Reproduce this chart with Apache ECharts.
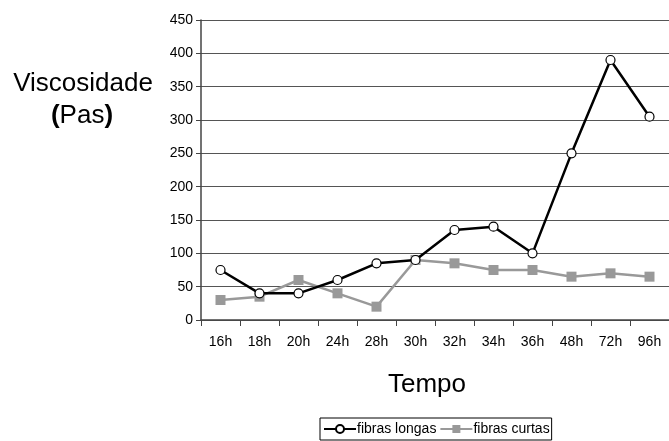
<!DOCTYPE html>
<html><head><meta charset="utf-8">
<script src="https://cdn.jsdelivr.net/npm/echarts@6/dist/echarts.min.js"></script>
<style>html,body{margin:0;padding:0;background:#fff}#c{width:669px;height:441px}</style>
</head><body><div id="c"></div>
<script>
var categories = ['16h','18h','20h','24h','28h','30h','32h','34h','36h','48h','72h','96h'];
var fibrasLongas = [75, 40, 40, 60, 85, 90, 135, 140, 100, 250, 390, 305];
var fibrasCurtas = [30, 35, 60, 40, 20, 90, 85, 75, 75, 65, 70, 65];
var yTicks = [0, 450, 50];

var font = 'Liberation Sans, Arial, sans-serif';
var chart = echarts.init(document.getElementById('c'), null, {renderer: 'canvas'});
chart.setOption({
  animation: false,
  textStyle: {fontFamily: font},
  grid: {left: 201, right: 0, top: 20, bottom: 121},
  xAxis: {
    type: 'category', data: categories, boundaryGap: true,
    axisLine: {lineStyle: {color: '#444', width: 1.5}},
    axisTick: {show: true, length: 6, lineStyle: {color: '#444'}},
    axisLabel: {color: '#000', fontSize: 14, margin: 15, fontFamily: font}
  },
  yAxis: {
    type: 'value', min: yTicks[0], max: yTicks[1], interval: yTicks[2],
    axisLine: {show: true, lineStyle: {color: '#444', width: 1.5}},
    axisTick: {show: true, length: 5, lineStyle: {color: '#444'}},
    axisLabel: {color: '#000', fontSize: 14, margin: 8, fontFamily: font},
    splitLine: {lineStyle: {color: '#555', width: 1}}
  },
  legend: {
    left: 320, top: 418,
    borderColor: '#000', borderWidth: 1, padding: [4, 2, 4, 3],
    itemGap: 3, itemWidth: 32, itemHeight: 10,
    textStyle: {color: '#000', fontSize: 14, fontFamily: font, padding: [0,0,0,-4]},
    data: ['fibras longas', 'fibras curtas']
  },
  graphic: [
    {type: 'text', style: {x: 83, y: 84, text: 'Viscosidade', fontSize: 26, fontFamily: font, fill: '#000', textAlign: 'center', textVerticalAlign: 'middle'}},
    {type: 'text', style: {
      x: 82, y: 116, textAlign: 'center', textVerticalAlign: 'middle',
      text: '{b|(}{n|Pas}{b|)}', fontSize: 26, fontFamily: font, fill: '#000',
      rich: {b: {fontSize: 26, fontWeight: 'bold', fontFamily: font, fill: '#000'}, n: {fontSize: 26, fontFamily: font, fill: '#000'}}
    }},
    {type: 'text', style: {x: 427, y: 385, text: 'Tempo', fontSize: 26, fontFamily: font, fill: '#000', textAlign: 'center', textVerticalAlign: 'middle'}}
  ],
  series: [
    {
      name: 'fibras longas', type: 'line', data: fibrasLongas,
      symbol: 'circle', symbolSize: 9,
      lineStyle: {color: '#000', width: 2.5},
      itemStyle: {color: '#fff', borderColor: '#000', borderWidth: 1.2},
      z: 3
    },
    {
      name: 'fibras curtas', type: 'line', data: fibrasCurtas,
      symbol: 'rect', symbolSize: 10,
      lineStyle: {color: '#999', width: 2.5},
      itemStyle: {color: '#999', borderColor: '#999', borderWidth: 0},
      z: 2
    }
  ]
});
</script></body></html>
